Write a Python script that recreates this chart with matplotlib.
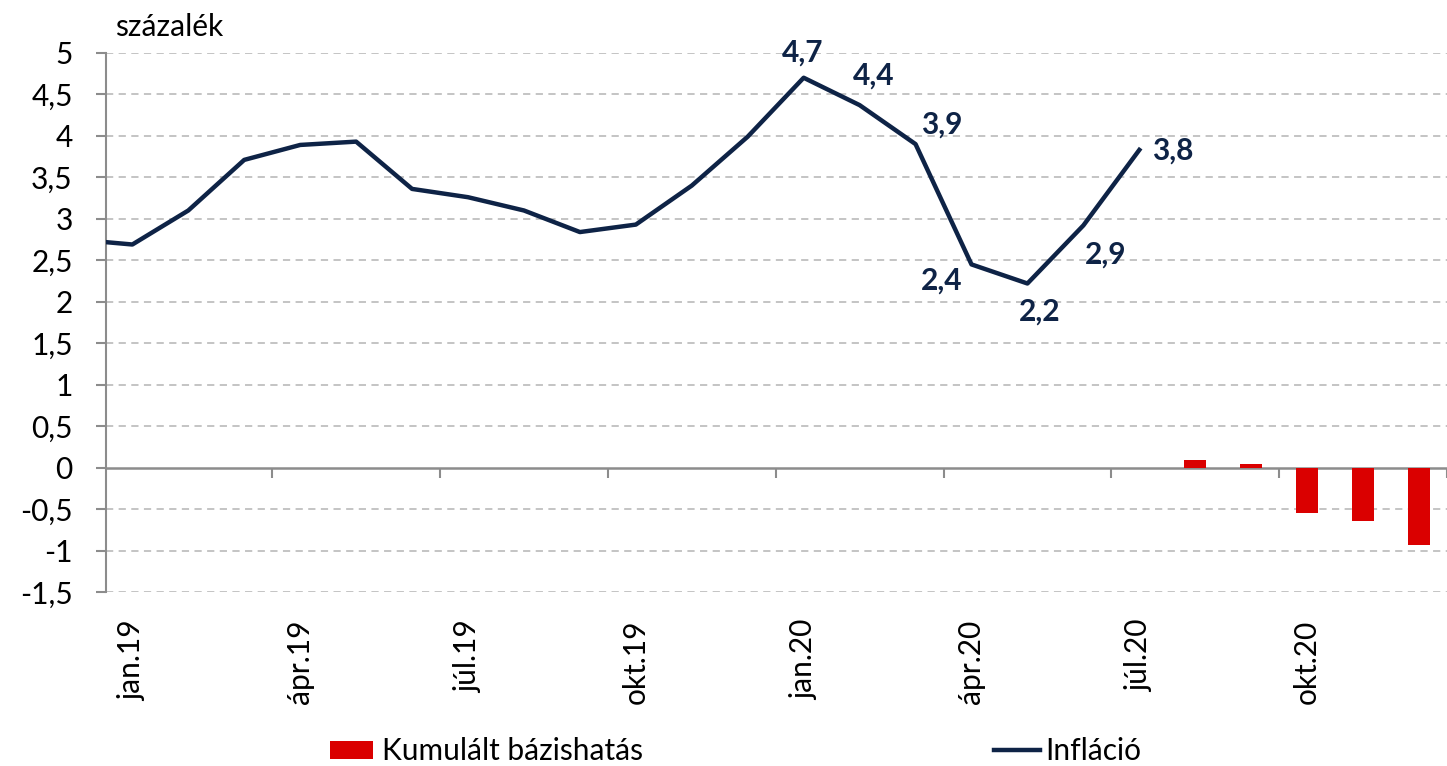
import matplotlib
matplotlib.use("Agg")
import matplotlib.pyplot as plt
from matplotlib.patches import Patch
from matplotlib.lines import Line2D
import numpy as np

plt.rcParams['font.family'] = ['Lato', 'DejaVu Sans']

months = ["jan.19", "feb.19", "márc.19", "ápr.19", "máj.19", "jún.19", "júl.19", "aug.19",
          "szept.19", "okt.19", "nov.19", "dec.19", "jan.20", "feb.20", "márc.20", "ápr.20",
          "máj.20", "jún.20", "júl.20", "aug.20", "szept.20", "okt.20", "nov.20", "dec.20"]
# inflation (line), preceded by dec.18 value which sits just outside the left edge
infl_dec18 = 2.75
inflation = [2.69, 3.10, 3.71, 3.89, 3.93, 3.36, 3.26, 3.10, 2.84, 2.93, 3.40, 3.99,
             4.70, 4.37, 3.90, 2.45, 2.22, 2.92, 3.83]
# data labels shown on the line from jan.20 onward
point_labels = ["4,7", "4,4", "3,9", "2,4", "2,2", "2,9", "3,8"]
label_from = "jan.20"
# cumulative base effect (bars), aug.20 - dec.20
base_months = ["aug.20", "szept.20", "okt.20", "nov.20", "dec.20"]
base_effect = [0.09, 0.05, -0.55, -0.64, -0.93]
tick_labels_y = ["5", "4,5", "4", "3,5", "3", "2,5", "2", "1,5", "1", "0,5", "0", "-0,5", "-1", "-1,5"]

navy = "#0E2346"
red = "#DA0000"
axis_gray = "#8C8C8C"
grid_gray = "#BFBFBF"
FS = 21.5

fig = plt.figure(figsize=(14.47, 7.66), dpi=100)
ax = fig.add_axes([0.0733, 0.227, 0.9267, 0.704])

bx = [months.index(m) for m in base_months]
ax.bar(bx, base_effect, width=0.39, color=red, zorder=3)

lx = np.arange(-1, len(inflation))
ly = [infl_dec18] + inflation
ax.plot(lx, ly, color=navy, lw=3.2, solid_joinstyle='round', zorder=4)

offsets = [(-1, 25), (14, 30), (26, 20), (-30, -16), (12, -28), (22, -29), (33, -1)]
start = months.index(label_from)
for k, lab in enumerate(point_labels):
    i = start + k
    v = inflation[i]
    ax.annotate(lab, (i, v), xytext=offsets[k],
                textcoords='offset pixels', ha='center', va='center',
                fontsize=FS, fontweight='bold', color=navy, zorder=5)

ax.set_xlim(-0.47, 23.24)
ax.set_ylim(-1.5, 5)

yt = [float(t.replace(",", ".")) for t in tick_labels_y]
ax.set_yticks(yt)
ax.set_yticklabels(tick_labels_y, fontsize=FS)
ax.tick_params(axis='y', length=7, width=1.5, color=axis_gray, pad=17)
for v in yt:
    if v != 0:
        ax.axhline(v, color=grid_gray, lw=1.3, ls=(0, (4, 3)), zorder=1)

for s in ['top', 'right']:
    ax.spines[s].set_visible(False)
ax.spines['left'].set_color(axis_gray)
ax.spines['left'].set_linewidth(1.5)
ax.spines['bottom'].set_position(('data', 0))
ax.spines['bottom'].set_color(axis_gray)
ax.spines['bottom'].set_linewidth(1.8)
ax.spines['bottom'].set_zorder(2)

bounds = np.arange(2.5, len(months), 3)
ax.set_xticks(bounds)
ax.set_xticklabels([])
ax.tick_params(axis='x', length=7, width=1.5, color=axis_gray, direction='out')

sec = ax.secondary_xaxis('bottom')
lab_idx = np.arange(0, len(months), 3)
sec.set_xticks(lab_idx)
sec.set_xticklabels([months[i] for i in lab_idx], rotation=90, fontsize=FS)
sec.tick_params(length=0, pad=20)
sec.spines['bottom'].set_visible(False)

fig.text(0.0795, 0.965, "százalék", fontsize=FS, va='center', ha='left')

h1 = Patch(facecolor=red, edgecolor='none')
h2 = Line2D([], [], color=navy, lw=3.2)
fig.legend([h1], ["Kumulált bázishatás"], loc='center left',
           bbox_to_anchor=(0.228, 0.019), frameon=False, fontsize=FS,
           handlelength=1.45, handleheight=0.52, handletextpad=0.3, borderaxespad=0,
           borderpad=0)
fig.legend([h2], ["Infláció"], loc='center left',
           bbox_to_anchor=(0.687, 0.019), frameon=False, fontsize=FS,
           handlelength=1.55, handletextpad=0.15, borderaxespad=0, borderpad=0)

fig.savefig("out.png", dpi=100)
